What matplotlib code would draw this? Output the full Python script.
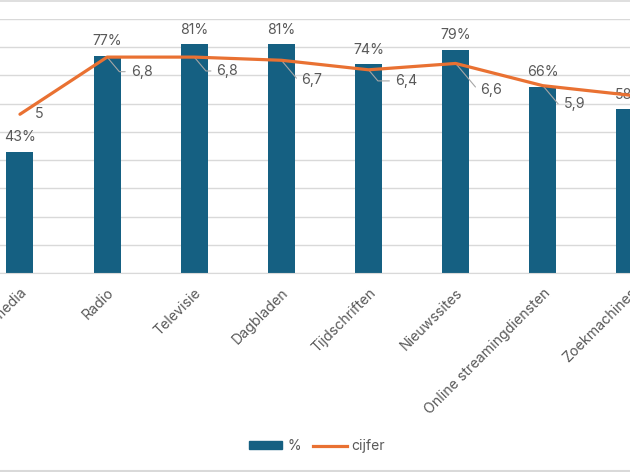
import matplotlib
matplotlib.use("Agg")
import matplotlib.pyplot as plt
from matplotlib.lines import Line2D
from matplotlib.patches import Patch

plt.rcParams['font.family'] = ['Inter', 'DejaVu Sans']

categories = ["Sociale media", "Radio", "Televisie", "Dagbladen", "Tijdschriften",
              "Nieuwssites", "Online streamingdiensten", "Zoekmachines"]
pct = [0.43, 0.77, 0.81, 0.81, 0.74, 0.79, 0.66, 0.58]
cijfer = [5.0, 6.8, 6.8, 6.7, 6.4, 6.6, 5.9, 5.6]

# label offsets (points) for line data labels: (dx to text left edge, dy)
lab_off = [(11, 0), (17, -10.5), (16, -10), (14.5, -14), (19, -8), (17.5, -19), (15, -13), (15, -10)]

BAR = "#156082"
LINE = "#E97132"
TXT = "#595959"
GRID = "#d9d9d9"

W, H = 630, 472
fig = plt.figure(figsize=(W / 100, H / 100), dpi=100)
ax = fig.add_axes([0, (H - 273) / H, 1, (273 - 19) / H])
ax2 = ax.twinx()

x = list(range(len(categories)))
ax.bar(x, pct, width=0.31, color=BAR, zorder=2, label="%")
ax.set_ylim(0, 0.9)
ax.set_xlim(-0.229, 6.987)
ax.set_yticks([i / 10 for i in range(10)])
ax.yaxis.grid(True, color=GRID, lw=1)
ax.set_axisbelow(True)
ax.tick_params(axis='y', left=False, labelleft=False)
ax.tick_params(axis='x', length=0, pad=9, labelsize=10.2, labelcolor=TXT)
ax.set_xticks(x)
ax.set_xticklabels(categories, rotation=45, ha='right', rotation_mode='anchor')
for s in ax.spines.values():
    s.set_visible(False)
ax.spines['bottom'].set_visible(True)
ax.spines['bottom'].set_color(GRID)

for xi, v in zip(x, pct):
    ax.annotate(f"{round(v * 100)}%", (xi, v), xytext=(0, 10.5), textcoords='offset points',
                ha='center', va='center', fontsize=10.2, color=TXT, zorder=5)

ax2.plot(x, cijfer, color=LINE, lw=2.3, solid_capstyle='round', zorder=3, label="cijfer")
ax2.set_ylim(0, 8)
ax2.set_yticks([])
for s in ax2.spines.values():
    s.set_visible(False)

for i, (xi, v) in enumerate(zip(x, cijfer)):
    dx, dy = lab_off[i]
    txt = f"{v:.1f}".replace('.', ',') if v != int(v) else f"{int(v)}"
    if i == 0:
        ax2.annotate(txt, (xi, v), xytext=(dx, dy), textcoords='offset points',
                     ha='left', va='center', fontsize=10.2, color=TXT)
    else:
        ax2.annotate(txt, (xi, v), xytext=(dx, dy), textcoords='offset points',
                     ha='left', va='center', fontsize=10.2, color=TXT, zorder=1,
                     arrowprops=dict(arrowstyle='-', color='#a6a6a6', lw=0.8,
                                     shrinkA=2, shrinkB=0, relpos=(0, 0.5),
                                     connectionstyle='angle,angleA=0,angleB=-50,rad=0'))

handles = [Patch(color=BAR, label="%"), Line2D([0], [0], color=LINE, lw=2.3, label="cijfer")]
fig.legend(handles=handles, loc='center', bbox_to_anchor=(317 / W, (H - 446) / H), ncol=2,
           frameon=False, fontsize=10, labelcolor=TXT, handlelength=2.4, handleheight=0.5,
           handletextpad=0.35, columnspacing=0.9)

fig.add_artist(Line2D([0, 1], [1 - 0.5 / H, 1 - 0.5 / H], color=GRID, lw=1.2, transform=fig.transFigure))
fig.add_artist(Line2D([0, 1], [1.2 / H, 1.2 / H], color=GRID, lw=1.5, transform=fig.transFigure))

fig.savefig("out.png", dpi=100)
